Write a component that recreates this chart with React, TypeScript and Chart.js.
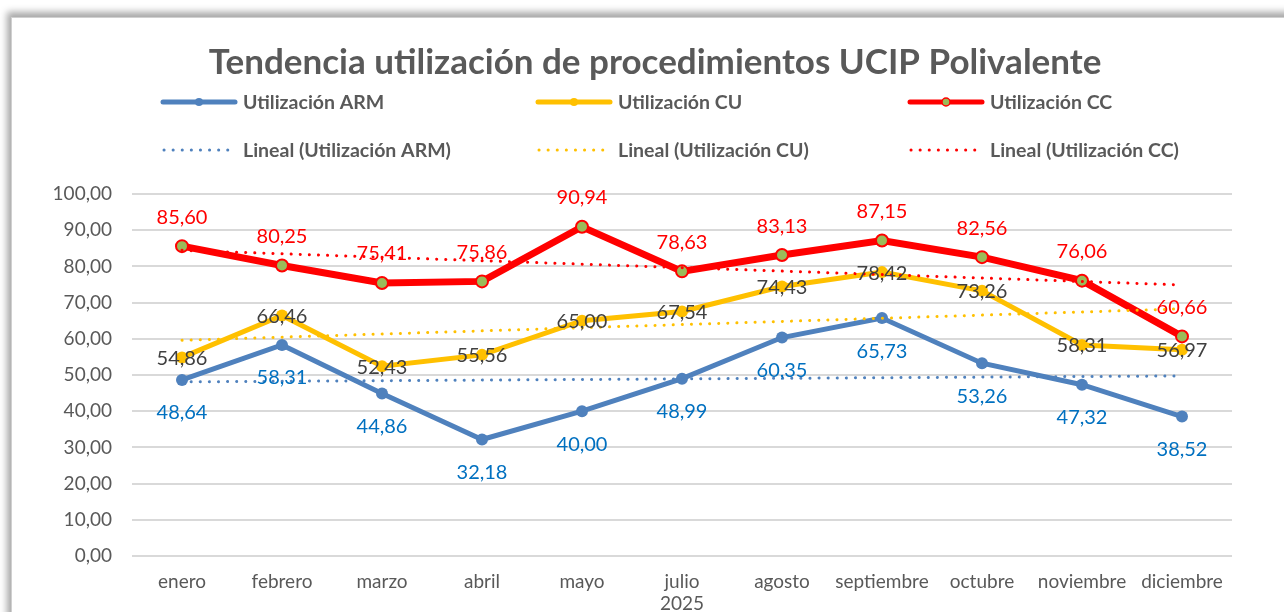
import { useEffect, useRef } from "react";
import { Chart, registerables } from "chart.js";

Chart.register(...registerables);

const TITLE = "Tendencia utilización de procedimientos UCIP Polivalente";
const MONTHS: (string | string[])[] = [
  "enero", "febrero", "marzo", "abril", "mayo", ["julio", "2025"],
  "agosto", "septiembre", "octubre", "noviembre", "diciembre",
];
const ARM = [48.64, 58.31, 44.86, 32.18, 40.0, 48.99, 60.35, 65.73, 53.26, 47.32, 38.52];
const CU = [54.86, 66.46, 52.43, 55.56, 65.0, 67.54, 74.43, 78.42, 73.26, 58.31, 56.97];
const CC = [85.6, 80.25, 75.41, 75.86, 90.94, 78.63, 83.13, 87.15, 82.56, 76.06, 60.66];
const SERIES_NAMES = ["Utilización ARM", "Utilización CU", "Utilización CC"];
const TREND_NAMES = ["Lineal (Utilización ARM)", "Lineal (Utilización CU)", "Lineal (Utilización CC)"];

const BLUE = "#4F81BD";
const YELLOW = "#FFC000";
const RED = "#FF0000";
const GREEN = "#9BBB59";
const TEXT = "#595959";

function linearTrend(values: number[]): number[] {
  const n = values.length;
  const xs = values.map((_, i) => i + 1);
  const mx = xs.reduce((a, b) => a + b, 0) / n;
  const my = values.reduce((a, b) => a + b, 0) / n;
  let sxy = 0, sxx = 0;
  for (let i = 0; i < n; i++) {
    sxy += (xs[i] - mx) * (values[i] - my);
    sxx += (xs[i] - mx) * (xs[i] - mx);
  }
  const slope = sxy / sxx;
  return xs.map((x) => my + slope * (x - mx));
}

const fmt = (v: number) => v.toFixed(2).replace(".", ",");

const dataLabelPlugin = {
  id: "dataLabels",
  afterDatasetsDraw(chart: any) {
    const ctx = chart.ctx;
    chart.data.datasets.forEach((ds: any, i: number) => {
      if (!ds.labelCfg) return;
      const meta = chart.getDatasetMeta(i);
      meta.data.forEach((pt: any, j: number) => {
        ctx.save();
        ctx.font = "20px Lato";
        ctx.fillStyle = ds.labelCfg.color;
        ctx.textAlign = "center";
        ctx.textBaseline = "middle";
        ctx.fillText(fmt(ds.data[j]), pt.x, pt.y + ds.labelCfg.dy);
        ctx.restore();
      });
    });
  },
};

const titleLegendPlugin = {
  id: "titleLegend",
  afterDraw(chart: any) {
    const ctx = chart.ctx;
    ctx.save();
    ctx.font = "bold 35px Lato";
    ctx.fillStyle = TEXT;
    ctx.textAlign = "center";
    ctx.textBaseline = "middle";
    ctx.fillText(TITLE, 655, 63);

    const cols = [163, 538, 910];
    const rows = [102, 150];
    const lineLen = 72;
    const series = chart.data.datasets.filter((d: any) => !d.isTrend);
    const trends = chart.data.datasets.filter((d: any) => d.isTrend);
    ctx.font = "bold 19.5px Lato";
    ctx.textAlign = "left";
    series.forEach((d: any, i: number) => {
      const x = cols[i], y = rows[0];
      ctx.beginPath();
      ctx.lineCap = "round";
      ctx.lineWidth = 5;
      ctx.strokeStyle = d.borderColor;
      ctx.moveTo(x, y);
      ctx.lineTo(x + lineLen, y);
      ctx.stroke();
      ctx.beginPath();
      ctx.arc(x + lineLen / 2, y, 4, 0, Math.PI * 2);
      ctx.fillStyle = d.pointBackgroundColor;
      ctx.fill();
      if (d.pointBorderWidth > 0) {
        ctx.lineWidth = 1.5;
        ctx.strokeStyle = d.pointBorderColor;
        ctx.stroke();
      }
      ctx.fillStyle = TEXT;
      ctx.fillText(d.label, x + 80, y + 1);
    });
    trends.forEach((d: any, i: number) => {
      const x = cols[i], y = rows[1];
      ctx.beginPath();
      ctx.lineCap = "round";
      ctx.lineWidth = 3;
      ctx.strokeStyle = d.borderColor;
      ctx.setLineDash([0.1, 9]);
      ctx.moveTo(x + 1, y);
      ctx.lineTo(x + lineLen - 2, y);
      ctx.stroke();
      ctx.setLineDash([]);
      ctx.fillStyle = TEXT;
      ctx.fillText(d.label, x + 80, y + 1);
    });
    ctx.restore();
  },
};

export default function App() {
  const ref = useRef<HTMLCanvasElement>(null);
  useEffect(() => {
    if (!ref.current) return;
    const seriesDs = (label: string, data: number[], color: string, width: number, extra: any) => ({
      label,
      data,
      borderColor: color,
      backgroundColor: color,
      borderWidth: width,
      pointRadius: 6,
      pointHoverRadius: 6,
      pointBackgroundColor: color,
      pointBorderColor: color,
      pointBorderWidth: 0,
      tension: 0,
      order: 10,
      ...extra,
    });
    const trendDs = (label: string, data: number[], color: string) => ({
      label,
      data: linearTrend(data),
      isTrend: true,
      borderColor: color,
      backgroundColor: color,
      borderWidth: 3,
      borderDash: [0.1, 9],
      borderCapStyle: "round",
      pointRadius: 0,
      tension: 0,
      order: 5,
    });
    const chart = new Chart(ref.current, {
      type: "line",
      data: {
        labels: MONTHS as any,
        datasets: [
          seriesDs(SERIES_NAMES[0], ARM, BLUE, 5, { labelCfg: { color: "#0070C0", dy: 33 } }),
          seriesDs(SERIES_NAMES[1], CU, YELLOW, 5, { labelCfg: { color: "#404040", dy: 1 } }),
          seriesDs(SERIES_NAMES[2], CC, RED, 7, {
            pointBackgroundColor: GREEN,
            pointBorderColor: RED,
            pointBorderWidth: 2,
            labelCfg: { color: RED, dy: -29 },
          }),
          trendDs(TREND_NAMES[0], ARM, BLUE),
          trendDs(TREND_NAMES[1], CU, YELLOW),
          trendDs(TREND_NAMES[2], CC, RED),
        ] as any,
      },
      options: {
        animation: false,
        responsive: false,
        layout: { padding: { top: 194, right: 52, bottom: 0, left: 0 } },
        plugins: {
          legend: { display: false },
          title: { display: false },
          tooltip: { enabled: false },
        },
        scales: {
          x: {
            offset: true,
            grid: { display: false, drawTicks: false },
            border: { display: false },
            ticks: {
              color: TEXT,
              font: { family: "Lato", size: 19 },
              padding: 14,
              maxRotation: 0,
              autoSkip: false,
            },
            afterFit: (s: any) => { s.height = 56; },
          },
          y: {
            min: 0,
            max: 100,
            grid: { color: "#D9D9D9", lineWidth: 2, drawTicks: false },
            border: { display: false },
            ticks: {
              stepSize: 10,
              color: TEXT,
              font: { family: "Lato", size: 19 },
              padding: 20,
              callback: (v: any) => fmt(Number(v)),
            },
            afterFit: (s: any) => { s.width = 132; },
          },
        },
      } as any,
      plugins: [dataLabelPlugin, titleLegendPlugin],
    });
    return () => chart.destroy();
  }, []);
  return (
    <div style={{ position: "fixed", left: 0, top: 0, width: 1284, height: 612, overflow: "hidden", background: "#fff" }}>
      <div
        style={{
          position: "absolute",
          left: 11,
          top: 17,
          width: 1400,
          height: 700,
          background: "#fff",
          border: "1px solid #D0D0D0",
          boxShadow: "-2px -3px 7px 2px rgba(0,0,0,0.35)",
        }}
      />
      <canvas ref={ref} width={1284} height={612} style={{ position: "absolute", left: 0, top: 0, width: 1284, height: 612 }} />
    </div>
  );
}
